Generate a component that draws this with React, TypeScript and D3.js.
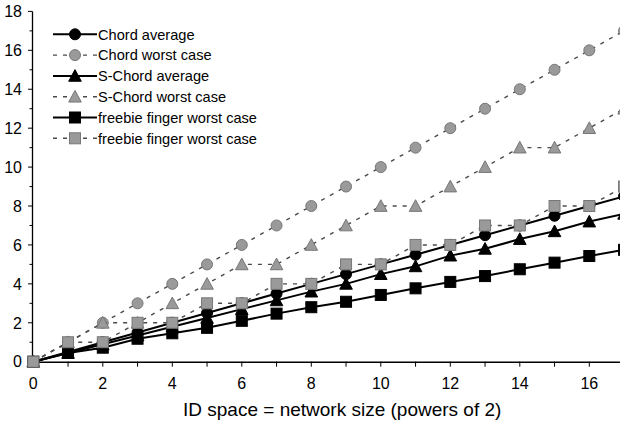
import React from "react";
import * as d3 from "d3";

const xs = [0, 1, 2, 3, 4, 5, 6, 7, 8, 9, 10, 11, 12, 13, 14, 15, 16, 17];
const chordAvg = [0, 0.5, 1, 1.5, 2, 2.5, 3, 3.5, 4, 4.5, 5, 5.5, 6, 6.5, 7, 7.5, 8, 8.5];
const chordWorst = [0, 1, 2, 3, 4, 5, 6, 7, 8, 9, 10, 11, 12, 13, 14, 15, 16, 17];
const sChordAvg = [0, 0.45, 0.9, 1.35, 1.8, 2.25, 2.7, 3.15, 3.6, 4.0, 4.5, 4.9, 5.45, 5.8, 6.3, 6.7, 7.2, 7.6];
const sChordWorst = [0, 1, 2, 2, 3, 4, 5, 5, 6, 7, 8, 8, 9, 10, 11, 11, 12, 13];
const freebie = [0, 0.45, 0.72, 1.18, 1.46, 1.74, 2.1, 2.47, 2.8, 3.08, 3.43, 3.77, 4.1, 4.4, 4.75, 5.09, 5.43, 5.75];
const freebieWorst = [0, 1, 1, 2, 2, 3, 3, 4, 4, 5, 5, 6, 6, 7, 7, 8, 8, 9];

const seriesNames = [
  "Chord average",
  "Chord worst case",
  "S-Chord average",
  "S-Chord worst case",
  "freebie finger worst case",
  "freebie finger worst case",
];
const xTickLabels = [0, 2, 4, 6, 8, 10, 12, 14, 16];
const yTickLabels = [0, 2, 4, 6, 8, 10, 12, 14, 16, 18];

const BLACK = "#000";
const GRAY = "#9a9a9a";
const GRAY_LINE = "#4a4a4a";

type Shape = "circle" | "triangle" | "square";
const series: { name: string; values: number[]; shape: Shape; worst: boolean }[] = [
  { name: seriesNames[0], values: chordAvg, shape: "circle", worst: false },
  { name: seriesNames[1], values: chordWorst, shape: "circle", worst: true },
  { name: seriesNames[2], values: sChordAvg, shape: "triangle", worst: false },
  { name: seriesNames[3], values: sChordWorst, shape: "triangle", worst: true },
  { name: seriesNames[4], values: freebie, shape: "square", worst: false },
  { name: seriesNames[5], values: freebieWorst, shape: "square", worst: true },
];

function Marker({ shape, cx, cy, worst }: { shape: Shape; cx: number; cy: number; worst: boolean }) {
  const fill = worst ? GRAY : BLACK;
  const stroke = worst ? "#777" : BLACK;
  if (shape === "circle") return <circle cx={cx} cy={cy} r={5.5} fill={fill} stroke={stroke} strokeWidth={1} />;
  if (shape === "triangle") {
    const s = 6.3;
    return (
      <path
        d={`M${cx},${cy - s} L${cx + s},${cy + s * 0.85} L${cx - s},${cy + s * 0.85} Z`}
        fill={fill}
        stroke={stroke}
        strokeWidth={1}
      />
    );
  }
  return <rect x={cx - 5.5} y={cy - 5.5} width={11} height={11} fill={fill} stroke={stroke} strokeWidth={1} />;
}

export default function App() {
  const W = 620;
  const H = 421;
  const x = d3.scaleLinear().domain([0, 18]).range([33.3, 33.3 + 18 * 34.75]);
  const y = d3.scaleLinear().domain([0, 18]).range([361.7, 11.4]);
  const line = d3
    .line<number>()
    .x((_, i) => x(xs[i]))
    .y((d) => y(d));

  const minorY = d3.range(0, 19, 1);
  const minorX = d3.range(0, 18, 1);
  const font = "'Liberation Sans', Arial, sans-serif";

  return (
    <svg
      width={W}
      height={H}
      style={{ position: "absolute", left: 0, top: 0, background: "#fff" }}
      fontFamily={font}
    >
      <rect x={0} y={0} width={W} height={H} fill="#fff" />
      {/* y axis */}
      <line x1={32.5} x2={32.5} y1={y(18)} y2={y(0)} stroke="#000" strokeWidth={1.3} />
      {minorY.map((v) => (
        <line
          key={"yt" + v}
          x1={32.5}
          x2={v % 2 === 0 ? 28 : 29.5}
          y1={y(v)}
          y2={y(v)}
          stroke="#000"
          strokeWidth={1}
        />
      ))}
      {yTickLabels.map((v) => (
        <text key={"yl" + v} x={22} y={y(v)} dy="0.36em" textAnchor="end" fontSize={16} fill="#000">
          {v}
        </text>
      ))}
      {/* x axis */}
      <line x1={32.5} x2={W} y1={y(0) + 0.5} y2={y(0) + 0.5} stroke="#000" strokeWidth={1.5} />
      {minorX.map((v) => (
        <line key={"xt" + v} x1={x(v)} x2={x(v)} y1={y(0)} y2={y(0) + 5} stroke="#000" strokeWidth={1} />
      ))}
      {xTickLabels.map((v) => (
        <text key={"xl" + v} x={x(v)} y={383} dy="0.36em" textAnchor="middle" fontSize={16} fill="#000">
          {v}
        </text>
      ))}
      <text x={183} y={409} dy="0.36em" textAnchor="start" fontSize={19} fill="#000">
        ID space = network size (powers of 2)
      </text>

      {/* series */}
      {series.map((s) => (
        <g key={s.name + s.shape + s.worst}>
          <path
            d={line(s.values) || ""}
            fill="none"
            stroke={s.worst ? GRAY_LINE : BLACK}
            strokeWidth={s.worst ? 1.4 : 2}
            strokeDasharray={s.worst ? "4,6" : undefined}
          />
          {s.values.map((v, i) => (
            <Marker key={i} shape={s.shape} cx={x(xs[i])} cy={y(v)} worst={s.worst} />
          ))}
        </g>
      ))}

      {/* legend */}
      {series.map((s, i) => {
        const ly = 34.3 + i * 20.8;
        return (
          <g key={"lg" + i}>
            <line
              x1={53}
              x2={97}
              y1={ly}
              y2={ly}
              stroke={s.worst ? GRAY_LINE : BLACK}
              strokeWidth={s.worst ? 1.4 : 2}
              strokeDasharray={s.worst ? "4,6" : undefined}
            />
            <Marker shape={s.shape} cx={75} cy={ly} worst={s.worst} />
            <text x={98} y={ly} dy="0.36em" fontSize={14.6} fill="#000">
              {s.name}
            </text>
          </g>
        );
      })}
    </svg>
  );
}
